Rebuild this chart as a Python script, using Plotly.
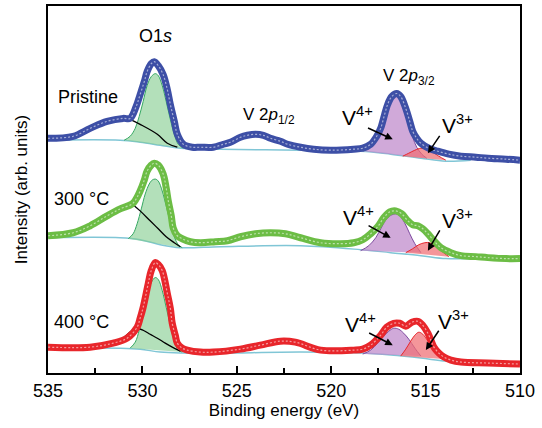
import plotly.graph_objects as go

# ---------------- data (binding energy eV, intensity arb. units, stacked) -------------
pri_E = [535.0, 533.67, 532.77, 531.87, 531.02, 530.65, 530.33, 530.12, 529.9, 529.75, 529.53, 529.37,
         529.16, 528.9, 528.68, 528.52, 528.31, 528.15, 527.83, 527.36, 526.93, 526.24, 525.71, 525.34,
         524.81, 524.44, 524.01, 523.59, 523.22, 522.69, 522.31, 521.62, 520.93, 520.03, 518.81, 518.33,
         517.91, 517.59, 517.38, 517.17, 517.01, 516.79, 516.53, 516.32, 516.05, 515.84, 515.68, 515.47,
         515.25, 514.83, 514.35, 513.77, 513.13, 512.34, 511.70, 510.74, 510.0]
pri_I = [236, 238, 246, 253, 256, 256, 268, 280, 293, 303, 311, 313,
         309, 300, 285, 270, 253, 240, 230, 227, 227, 227, 230, 232,
         237, 239, 240, 239, 236, 233, 230, 227, 225, 224, 225, 226,
         230, 238, 246, 260, 270, 278, 281, 278, 266, 253, 243, 236,
         231, 226, 223, 220, 218, 217, 216, 215, 214]

t300_E = [535.0, 533.67, 532.77, 531.87, 531.18, 530.54, 530.33, 530.12, 529.9, 529.75, 529.53, 529.37,
          529.16, 528.9, 528.74, 528.63, 528.47, 528.37, 528.15, 527.89, 527.46, 526.93, 526.14, 525.5,
          524.81, 524.01, 523.22, 522.42, 521.62, 520.56, 519.5, 518.81, 518.33, 517.91, 517.54, 517.22,
          516.9, 516.58, 516.26, 515.94, 515.68, 515.41, 515.15, 514.88, 514.56, 514.19, 513.66, 513.13,
          512.34, 511.7, 510.74, 510.0]
t300_I = [138, 141, 148, 158, 165, 170, 175, 183, 194, 203, 209, 211,
          209, 200, 186, 173, 158, 146, 138, 135, 132, 131, 132, 133,
          137, 140, 141, 140, 136, 131, 130, 131, 134, 140, 147, 156,
          162, 163, 160, 153, 149, 148, 145, 140, 133, 126, 121, 118,
          117, 116, 115, 115]

t400_E = [535.0, 532.77, 531.55, 530.81, 530.28, 530.12, 529.96, 529.69, 529.53, 529.32, 529.16, 528.95,
          528.68, 528.52, 528.42, 528.26, 528.15, 527.89, 527.62, 526.93, 526.24, 524.81, 523.75, 522.69,
          521.9, 520.56, 518.81, 518.33, 517.91, 517.38, 517.06, 516.69, 516.37, 516.05, 515.73, 515.41,
          515.15, 514.88, 514.72, 514.56, 514.30, 514.03, 513.66, 513.13, 511.7, 510.0]
t400_I = [26, 26, 30, 35, 46, 55, 66, 90, 103, 111, 109, 103,
          80, 65, 50, 38, 30, 25, 23, 21, 21, 24, 28, 32,
          31, 23, 23, 24, 28, 38, 46, 50, 50, 47, 51, 52,
          48, 40, 33, 26, 20, 16, 13, 11, 10, 9]

# backgrounds
bg_E = [535.0, 531.18, 530.12, 529.06, 527.99, 525.87, 521.62, 518.44, 516.85, 515.25, 513.93, 512.61]
pri_bg = [234, 234, 232, 229, 226, 225, 224, 223, 220, 216, 213, 214]
t300_bg = [136, 136, 134, 129, 126, 127, 128, 124, 121, 118, 115, 115]
t400_bg = [25, 25, 24, 21, 20, 20, 21, 20, 18, 15, 12, 11]

# fitted components
pri_o_E = [530.97, 530.65, 530.38, 530.17, 529.96, 529.75, 529.53, 529.32, 529.16, 528.95, 528.74, 528.52, 528.31, 528.10, 527.83]
pri_o_I = [234, 238, 246, 258, 273, 289, 298, 301, 299, 289, 273, 255, 240, 230, 226]
pri_oh_E = [530.65, 530.12, 529.21, 528.68, 528.15]
pri_oh_I = [255, 250, 240, 231, 227]
pri_v4_E = [518.33, 517.91, 517.59, 517.38, 517.17, 516.95, 516.74, 516.53, 516.32, 516.11, 515.89, 515.68, 515.47, 515.20, 514.94]
pri_v4_I = [223, 227, 235, 244, 257, 269, 276, 278, 275, 265, 251, 237, 227, 220, 216]
pri_v3_E = [516.21, 515.89, 515.57, 515.25, 514.94, 514.62, 514.30, 513.93]
pri_v3_I = [218, 221, 224, 226, 225, 222, 218, 214]

t300_o_E = [530.75, 530.49, 530.28, 530.06, 529.85, 529.64, 529.48, 529.32, 529.16, 528.95, 528.74, 528.52, 528.31, 528.10, 527.89]
t300_o_I = [135, 140, 150, 165, 180, 190, 194, 195, 193, 183, 168, 151, 137, 129, 126]
t300_oh_E = [530.54, 530.12, 529.59, 529.16, 528.74, 528.31, 527.99]
t300_oh_I = [170, 163, 153, 145, 137, 131, 127]
t300_v4_E = [518.44, 518.01, 517.64, 517.32, 517.06, 516.79, 516.58, 516.37, 516.11, 515.84, 515.57, 515.25]
t300_v4_I = [123, 128, 136, 147, 155, 159, 160, 158, 151, 140, 130, 121]
t300_v3_E = [516.05, 515.68, 515.36, 515.04, 514.78, 514.51, 514.19, 513.77]
t300_v3_I = [121, 125, 129, 131, 131, 128, 123, 117]

t400_o_E = [530.65, 530.38, 530.17, 529.96, 529.75, 529.53, 529.32, 529.16, 528.95, 528.74, 528.52, 528.31, 528.10, 527.89]
t400_o_I = [25, 31, 43, 60, 78, 91, 96, 94, 83, 66, 48, 32, 23, 21]
t400_oh_E = [531.44, 530.91, 530.54, 530.28, 529.96, 529.59, 529.21, 528.79, 528.42, 527.99]
t400_oh_I = [28, 37, 43, 45, 43, 39, 35, 30, 26, 22]
t400_v4_E = [518.33, 517.91, 517.54, 517.22, 516.95, 516.69, 516.42, 516.16, 515.89, 515.57, 515.25]
t400_v4_I = [19, 23, 30, 37, 42, 45, 44, 40, 34, 25, 17]
t400_v3_E = [516.32, 516.05, 515.79, 515.57, 515.36, 515.15, 514.88, 514.62, 514.35, 514.09]
t400_v3_I = [17, 24, 32, 38, 41, 39, 32, 23, 17, 14]

x_ticks = [535, 530, 525, 520, 515, 510]

# ---------------- styles ----------------
BLUE, GREEN, RED = "#3d4fa6", "#6cbd45", "#e8262b"
BG_COL = "#80c6d6"
FONT = "Liberation Sans, Arial, sans-serif"

fig = go.Figure()

def comp(E, I, fill, line):
    fig.add_trace(go.Scatter(x=E, y=I, mode="lines", fill="toself", fillcolor=fill,
                             line=dict(color=line, width=1, shape="spline"), hoverinfo="skip",
                             showlegend=False))

sets = [
    (pri_E, pri_I, pri_bg, pri_o_E, pri_o_I, pri_oh_E, pri_oh_I, pri_v4_E, pri_v4_I, pri_v3_E, pri_v3_I, BLUE),
    (t300_E, t300_I, t300_bg, t300_o_E, t300_o_I, t300_oh_E, t300_oh_I, t300_v4_E, t300_v4_I, t300_v3_E, t300_v3_I, GREEN),
    (t400_E, t400_I, t400_bg, t400_o_E, t400_o_I, t400_oh_E, t400_oh_I, t400_v4_E, t400_v4_I, t400_v3_E, t400_v3_I, RED),
]

for (E, I, bg, oE, oI, ohE, ohI, v4E, v4I, v3E, v3I, col) in sets:
    fig.add_trace(go.Scatter(x=bg_E, y=bg, mode="lines", line=dict(color=BG_COL, width=1.5, shape="spline"),
                             showlegend=False, hoverinfo="skip"))
    comp(oE, oI, "rgba(128,204,140,0.6)", "#35a862")
    comp(v4E, v4I, "rgba(190,136,202,0.72)", "#7d4a9e")
    comp(v3E, v3I, "rgba(240,110,115,0.72)", "#e8262b")
    fig.add_trace(go.Scatter(x=ohE, y=ohI, mode="lines", line=dict(color="black", width=1.3, shape="spline"),
                             showlegend=False, hoverinfo="skip"))
    fig.add_trace(go.Scatter(x=E, y=I, mode="lines", line=dict(color=col, width=7, shape="spline"),
                             showlegend=False, hoverinfo="skip"))
    fig.add_trace(go.Scatter(x=E, y=I, mode="lines",
                             line=dict(color="rgba(255,255,255,0.55)", width=1.2, shape="spline", dash="2px,2px"),
                             showlegend=False, hoverinfo="skip"))

ann = []
def txt(x, y, t, size=18):
    ann.append(dict(x=x, y=y, xref="x", yref="y", text=t, showarrow=False,
                    font=dict(family=FONT, size=size, color="black")))

def arrow(x, y, ax, ay):
    ann.append(dict(x=x, y=y, ax=ax, ay=ay, xref="x", yref="y", axref="x", ayref="y", text="",
                    showarrow=True, arrowhead=2, arrowsize=1, arrowwidth=1.5, arrowcolor="black"))

txt(529.32, 339, "O1<i>s</i>", 18)
txt(532.9, 278, "Pristine", 18)
txt(533.2, 175, "300 °C", 18)
txt(533.2, 51, "400 °C", 18)
txt(523.3, 258, "V 2<i>p</i><sub>1/2</sub>", 17)
txt(515.9, 298, "V 2<i>p</i><sub>3/2</sub>", 17)

for (tx, ty, hx, hy, sx, sy) in [(518.6, 258, 516.74, 235, 518.13, 247),
                                  (518.55, 158, 516.85, 136, 518.10, 149),
                                  (518.44, 50, 516.74, 28, 518.07, 41)]:
    txt(tx, ty, "V<sup>4+</sup>", 21)
    arrow(hx, hy, sx, sy)
for (tx, ty, hx, hy, sx, sy) in [(513.29, 250, 514.88, 221, 514.2, 240),
                                  (513.29, 155, 514.88, 123, 514.2, 145),
                                  (513.50, 53, 514.99, 23, 514.25, 44)]:
    txt(tx, ty, "V<sup>3+</sup>", 21)
    arrow(hx, hy, sx, sy)

fig.update_layout(
    width=542, height=428,
    margin=dict(l=48, r=22, t=4, b=55),
    paper_bgcolor="white", plot_bgcolor="white",
    font=dict(family=FONT, size=18, color="black"),
    annotations=ann,
    showlegend=False,
)
fig.update_xaxes(range=[535, 510], tickvals=x_ticks, ticktext=[str(v) for v in x_ticks],
                 ticks="inside", ticklen=7, tickwidth=1.5, tickcolor="black",
                 minor=dict(ticks="inside", ticklen=5, tickwidth=1.5, tickcolor="black", dtick=2.5, tick0=510),
                 showline=True, linewidth=2, linecolor="black", mirror=True, showgrid=False, zeroline=False,
                 title=dict(text="Binding energy (eV)", font=dict(size=17), standoff=4),
                 tickfont=dict(size=18))
fig.update_yaxes(range=[0, 369], showticklabels=False, ticks="", showline=True, linewidth=2,
                 linecolor="black", mirror=True, showgrid=False, zeroline=False,
                 title=dict(text="Intensity (arb. units)", font=dict(size=17), standoff=14))

fig.write_html("out.html", config={"displayModeBar": False},
               post_script="document.body.style.margin='0';")
